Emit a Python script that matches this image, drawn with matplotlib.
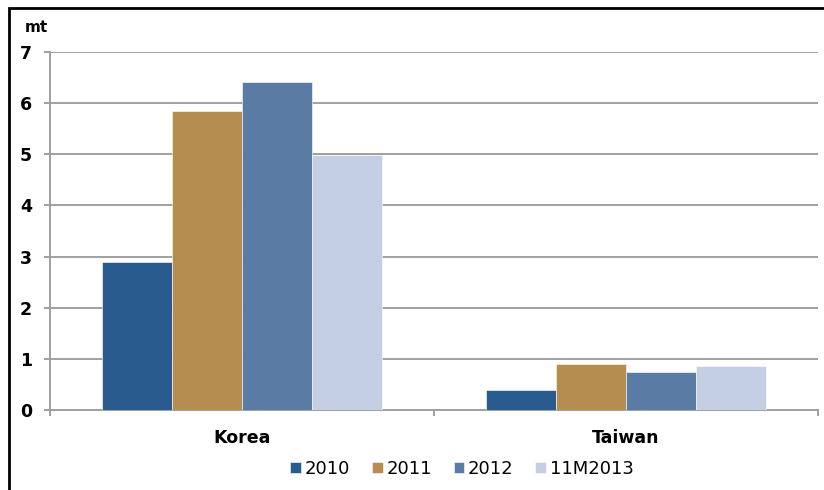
import matplotlib.pyplot as plt
import numpy as np
from matplotlib.patches import Rectangle

# steel imports by market, million tonnes
countries = ['Korea', 'Taiwan']
series = ['2010', '2011', '2012', '11M2013']
v2010 = [2.90, 0.39]
v2011 = [5.84, 0.89]
v2012 = [6.41, 0.74]
v11m2013 = [4.99, 0.86]
colors = ['#2A5B8F', '#B58D51', '#5A7BA3', '#C5CFE3']

plt.rcParams['font.family'] = ['DejaVu Sans']

fig = plt.figure(figsize=(8.24, 4.9), dpi=100)
ax = fig.add_axes([50/824, 1-410/490, 768/824, 358/490])

pos = np.arange(len(countries))
w = 0.182
values = [v2010, v2011, v2012, v11m2013]
for i, (name, vals) in enumerate(zip(series, values)):
    ax.bar(pos + (i - 1.5)*w, vals, w, color=colors[i], label=name,
           edgecolor='white', linewidth=0.4, zorder=3)

ax.set_xlim(-0.5, 1.5)
ax.set_ylim(0, 7)
ax.set_yticks(range(8))
ax.yaxis.grid(True, color='#A0A0A0', linewidth=1.4, zorder=0)
for s in ['top', 'right']:
    ax.spines[s].set_visible(False)
for s in ['left', 'bottom']:
    ax.spines[s].set_color('#A0A0A0')
    ax.spines[s].set_linewidth(1.4)

ax.set_xticks(pos)
ax.set_xticklabels(countries, fontsize=12.5, fontweight='bold')
ax.tick_params(axis='x', length=0, pad=14)
ax.set_xticks([-0.5, 0.5, 1.5], minor=True)
ax.tick_params(axis='x', which='minor', length=4, color='#A0A0A0', width=1.4)
ax.tick_params(axis='y', length=4, color='#A0A0A0', width=1.4, pad=9,
               labelsize=12.5)
for t in ax.get_yticklabels():
    t.set_fontweight('bold')

fig.text(25/824, 1-28/490, 'mt', fontsize=11, fontweight='bold', va='center')

ax.legend(loc='center', bbox_to_anchor=(462/824, 1-469/490),
          bbox_transform=fig.transFigure, ncol=4, frameon=False,
          fontsize=13, handlelength=0.6, handleheight=0.6,
          handletextpad=0.2, columnspacing=1.2)

# outer frame
fig.patches.append(Rectangle((9/824, -0.1), 1.2, 1 - 8/490 + 0.1,
                             transform=fig.transFigure, fill=False,
                             edgecolor='black', linewidth=2))

fig.savefig('out.png', dpi=100)
